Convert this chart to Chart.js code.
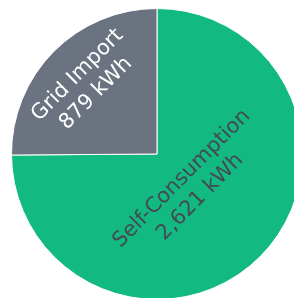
<!DOCTYPE html>
<html>
<head>
<meta charset="utf-8">
<script src="https://cdn.jsdelivr.net/npm/chart.js@4"></script>
<style>
    html, body { margin: 0; padding: 0; background: #fff; overflow: hidden; width: 294px; height: 298px; }
    #chart { position: absolute; left: 11px; top: 8px; }
</style>
</head>
<body>
<canvas id="chart" width="292" height="292"></canvas>
<script>
const labels = ['Self-Consumption', 'Grid Import'];
const values = [2621, 879];
const units = 'kWh';
const colors = ['#12b981', '#6b7280'];
const textColors = ['#454a52', '#ffffff'];
const labelDist = [0.33, 0.68];

// draw the two-line labels rotated along each slice
const sliceLabels = {
    id: 'sliceLabels',
    afterDatasetsDraw: function(chart) {
        const ctx = chart.ctx;
        const arcs = chart.getDatasetMeta(0).data;
        arcs.forEach((arc, i) => {
            const p = arc.getProps(['x', 'y', 'startAngle', 'endAngle', 'outerRadius'], true);
            const mid = (p.startAngle + p.endAngle) / 2;
            const r = p.outerRadius * labelDist[i];
            const cx = p.x + Math.cos(mid) * r;
            const cy = p.y + Math.sin(mid) * r;
            let rot = mid + Math.PI / 2;
            while (rot > Math.PI / 2) rot -= Math.PI;
            while (rot < -Math.PI / 2) rot += Math.PI;
            ctx.save();
            ctx.translate(cx, cy);
            ctx.rotate(rot);
            ctx.fillStyle = textColors[i];
            ctx.font = '21px "DejaVu Sans"';
            ctx.textAlign = 'center';
            ctx.textBaseline = 'middle';
            ctx.fillText(labels[i], 0, -13);
            ctx.fillText(values[i].toLocaleString('en-US') + ' ' + units, 0, 13);
            ctx.restore();
        });
    }
};

let pieChart = new Chart(document.getElementById('chart'), {
    type: 'pie',
    data: {
        labels: labels,
        datasets: [{
            data: values,
            backgroundColor: colors,
            borderColor: '#ffffff',
            borderWidth: 1,
        }],
    },
    options: {
        responsive: false,
        animation: false,
        plugins: {
            legend: { display: false },
            tooltip: { enabled: false },
        }
    },
    plugins: [sliceLabels]
});
</script>
</body>
</html>
